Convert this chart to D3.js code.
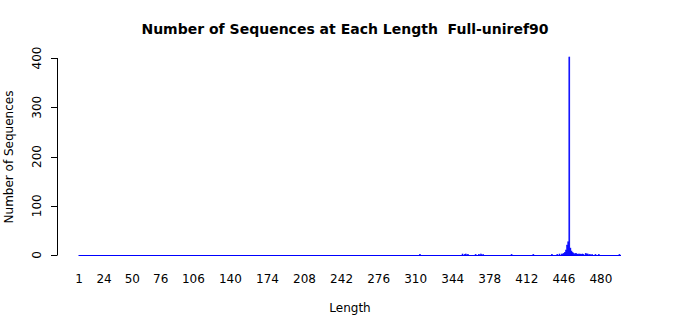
<!DOCTYPE html>
<html lang="en">
<head>
<meta charset="utf-8">
<title>Number of Sequences at Each Length</title>
<style>
  body { margin: 0; background: #fff; }
  text { font-family: "DejaVu Sans", sans-serif; fill: #000; }
</style>
</head>
<body>
<script src="https://d3js.org/d3.v7.min.js"></script>
<script>
  // lengths 1..maxLength, most have zero sequences
  const maxLength = 498;
  // [length, count] pairs for the non-zero lengths
  const nonZero = [
    [314, 1], [353, 2], [355, 1], [356, 2], [358, 1], [365, 1], [368, 1], [370, 2], [372, 1],
    [398, 1], [418, 1], [435, 1], [440, 1], [442, 2], [444, 2], [445, 2],
    [446, 3], [447, 5], [448, 10], [449, 20], [450, 27], [451, 402], [452, 14], [453, 8],
    [454, 5], [455, 3], [456, 2], [457, 3], [458, 2], [459, 1], [460, 2], [461, 2], [462, 1],
    [463, 2], [464, 1], [466, 3], [467, 2], [468, 2], [470, 1], [472, 1], [475, 1], [478, 1],
    [497, 1]
  ];
  const tickLengths = [1, 24, 50, 76, 106, 140, 174, 208, 242, 276, 310, 344, 378, 412, 446, 480];
  const yTicks = [0, 100, 200, 300, 400];

  const lengths = d3.range(1, maxLength + 1);
  const countMap = new Map(nonZero);
  const data = lengths.map(l => ({length: l, count: countMap.get(l) || 0}));

  const width = 700, height = 315;
  const svg = d3.select("body").append("svg")
    .attr("width", width)
    .attr("height", height);

  const x = d3.scaleBand()
    .domain(lengths)
    .range([78.5, 621])
    .paddingInner(0.15);

  const y = d3.scaleLinear()
    .domain([0, 400])
    .range([255, 58]);

  // baseline of zero-height bars
  svg.append("line")
    .attr("x1", x(1)).attr("x2", x(maxLength) + x.bandwidth())
    .attr("y1", y(0) + 0.5).attr("y2", y(0) + 0.5)
    .attr("stroke", "blue").attr("stroke-width", 1.2);

  svg.selectAll("rect.bar")
    .data(data.filter(d => d.count > 0))
    .enter().append("rect")
    .attr("class", "bar")
    .attr("x", d => x(d.length))
    .attr("width", x.bandwidth())
    .attr("y", d => y(d.count))
    .attr("height", d => y(0) - y(d.count) + 0.5)
    .attr("fill", "blue")
    .attr("stroke", "blue")
    .attr("stroke-width", 0.6);

  // y axis
  const yAxis = svg.append("g");
  yAxis.append("line")
    .attr("x1", 57.5).attr("x2", 57.5)
    .attr("y1", y(0)).attr("y2", y(400))
    .attr("stroke", "#000");
  yAxis.selectAll("line.tick")
    .data(yTicks)
    .enter().append("line")
    .attr("class", "tick")
    .attr("x1", 51).attr("x2", 57.5)
    .attr("y1", d => Math.round(y(d)) + 0.5)
    .attr("y2", d => Math.round(y(d)) + 0.5)
    .attr("stroke", "#000");
  yAxis.selectAll("text")
    .data(yTicks)
    .enter().append("text")
    .attr("transform", d => `translate(41,${y(d)}) rotate(-90)`)
    .attr("text-anchor", "middle")
    .attr("font-size", 12)
    .text(d => d);

  // x tick labels (bar names)
  svg.selectAll("text.xlab")
    .data(tickLengths)
    .enter().append("text")
    .attr("class", "xlab")
    .attr("x", d => x(d) + x.bandwidth() / 2)
    .attr("y", 283)
    .attr("text-anchor", "middle")
    .attr("font-size", 12)
    .text(d => d);

  svg.append("text")
    .attr("x", 350).attr("y", 312)
    .attr("text-anchor", "middle")
    .attr("font-size", 12)
    .text("Length");

  svg.append("text")
    .attr("transform", "translate(13,157) rotate(-90)")
    .attr("text-anchor", "middle")
    .attr("font-size", 12)
    .text("Number of Sequences");

  svg.append("text")
    .attr("x", 345).attr("y", 34)
    .attr("text-anchor", "middle")
    .attr("font-size", 14)
    .attr("font-weight", "bold")
    .style("white-space", "pre")
    .text("Number of Sequences at Each Length  Full-uniref90");
</script>
</body>
</html>
